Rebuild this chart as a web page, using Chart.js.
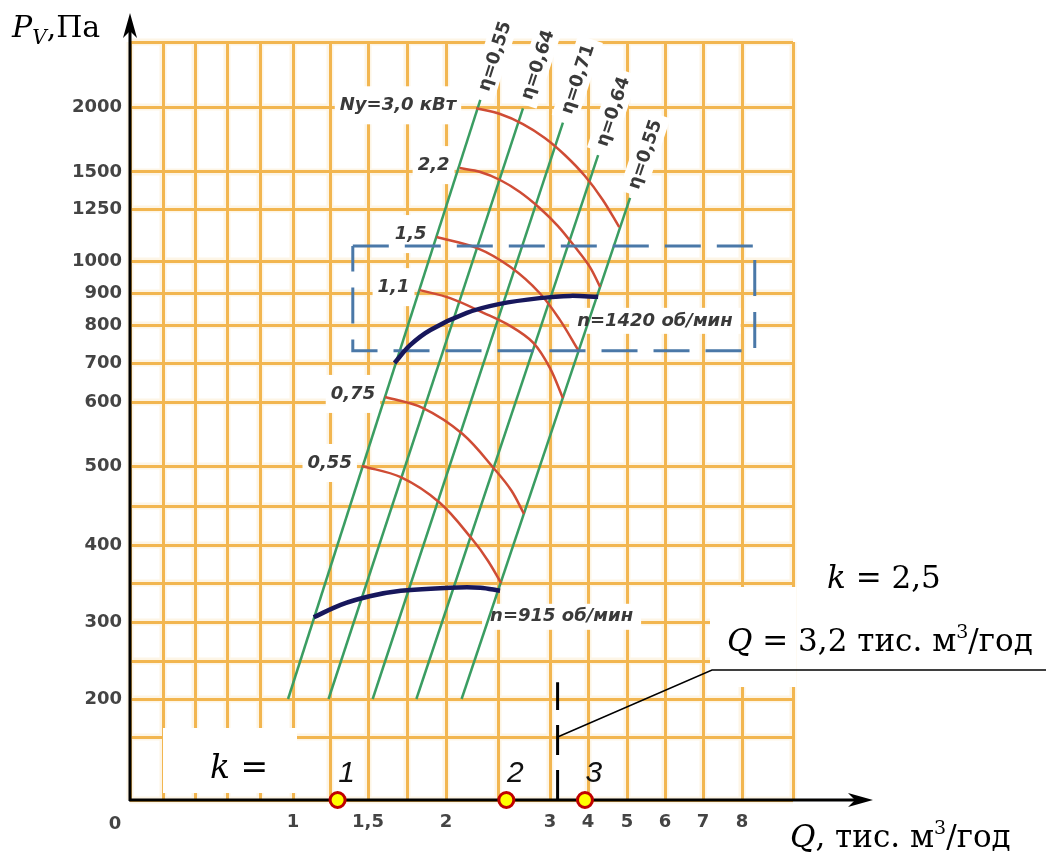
<!DOCTYPE html>
<html>
<head>
<meta charset="utf-8">
<title>Характеристика вентилятора</title>
<script src="https://cdn.jsdelivr.net/npm/chart.js@4.4.1/dist/chart.umd.min.js"></script>
<style>
  html, body { margin: 0; padding: 0; background: #fff; }
  canvas { display: block; }
</style>
</head>
<body>
<canvas id="fanChart" width="1059" height="859"></canvas>
<script>
// grid values on both axes and the labels printed at them
const qGrid = [0, 0.2, 0.4, 0.6, 0.8, 1, 1.25, 1.5, 1.75, 2, 2.5, 3, 4, 5, 6, 7, 8, 9];
const qTickLabels = ['', '', '', '', '', '1', '', '1,5', '', '2', '', '3', '4', '5', '6', '7', '8', ''];
const pGrid = [0, 100, 200, 250, 300, 350, 400, 450, 500, 600, 700, 800, 900, 1000, 1250, 1500, 2000, 3000];
const pTickLabels = ['', '', '200', '', '300', '', '400', '', '500', '600', '700', '800', '900', '1000', '1250', '1500', '2000', ''];

// efficiency lines, [Q, P] at the lower and upper end
const etaLabels = ['η=0,55', 'η=0,64', 'η=0,71', 'η=0,64', 'η=0,55'];
const etaLines = [
  [[0.97, 200], [2.33, 2110]],
  [[1.24, 200], [2.74, 1990]],
  [[1.53, 200], [3.34, 1880]],
  [[1.81, 200], [4.26, 1630]],
  [[2.15, 200], [5.08, 1325]]
];

// installed power curves
const powerLabels = ['Ny=3,0 кВт', '2,2', '1,5', '1,1', '0,75', '0,55'];
const powerCurves = [
  [[2.29, 1990], [2.52, 1946], [2.74, 1869], [2.95, 1762], [3.39, 1631], [3.92, 1473], [4.38, 1311], [4.80, 1163]],
  [[2.13, 1530], [2.33, 1500], [2.52, 1446], [2.71, 1365], [2.90, 1257], [3.21, 1168], [3.66, 1067], [4.05, 981], [4.31, 919]],
  [[1.94, 1115], [2.30, 1062], [2.62, 981], [2.90, 900], [3.26, 816], [3.74, 734]],
  [[1.83, 909], [2.04, 884], [2.36, 838], [2.62, 797], [2.84, 753], [3.00, 687], [3.34, 610]],
  [[1.61, 613], [1.85, 591], [2.16, 550], [2.48, 494], [2.63, 469], [2.75, 440]],
  [[1.46, 500], [1.71, 486], [1.96, 454], [2.26, 406], [2.40, 380], [2.53, 350]]
];

// fan curves for the two speeds
const speedLabels = ['n=1420 об/мин', 'n=915 об/мин'];
const speedCurves = [
  [[1.67, 700], [1.77, 747], [1.90, 787], [2.20, 838], [2.52, 866], [2.90, 884], [3.53, 891], [4.26, 888]],
  [[1.14, 306], [1.32, 322], [1.51, 333], [1.71, 340], [2.04, 344], [2.33, 344], [2.52, 340]]
];

// points on the Q axis and the working flow
const kPoints = [1.30, 2.58, 3.92];
const kPointLabels = ['1', '2', '3'];
const workingQ = 3.2;
const workingP = [0, 222];

// highlighted zone
const zoneQ = [1.40, 8.25];
const zoneP = [732, 1072];

// relative spacing of the grid lines (the axes are not uniform)
const axisSpacing = {
  x: [0, 33, 65, 97, 130, 163, 200, 238, 277, 316, 368, 420, 458, 497, 535, 573, 612, 663],
  y: [0, 63, 101, 139, 178, 217, 255, 294, 334, 398, 437, 475, 507, 539, 591, 628, 693, 758]
};
const axisGrid = { x: qGrid, y: pGrid };

// linear scale that is piecewise between the grid lines
class GridScale extends Chart.LinearScale {
  buildTicks() {
    return axisGrid[this.id].map(v => ({ value: v }));
  }
  getPixelForValue(value) {
    const vals = axisGrid[this.id];
    const pos = axisSpacing[this.id];
    let i = 1;
    while (i < vals.length - 1 && value > vals[i]) i++;
    const t = (value - vals[i - 1]) / (vals[i] - vals[i - 1]);
    const frac = (pos[i - 1] + t * (pos[i] - pos[i - 1])) / pos[pos.length - 1];
    return this.getPixelForDecimal(frac);
  }
}
GridScale.id = 'grid';
GridScale.defaults = {};
Chart.register(GridScale);

const gridColor = '#f2b650';
const labelColor = '#3a3a3a';
const sans = '"DejaVu Sans", sans-serif';
const serif = '"DejaVu Serif", serif';
const labelFont = `italic bold 18px ${sans}`;

function drawRuns(ctx, x, y, parts) {
  for (const [text, font, dy] of parts) {
    ctx.font = font;
    ctx.fillText(text, x, y + (dy || 0));
    x += ctx.measureText(text).width;
  }
}

function arrowHead(ctx, x, y, angle) {
  ctx.save();
  ctx.translate(x, y);
  ctx.rotate(angle);
  ctx.beginPath();
  ctx.moveTo(0, 0);
  ctx.lineTo(-25, -7);
  ctx.lineTo(-18, 0);
  ctx.lineTo(-25, 7);
  ctx.closePath();
  ctx.fill();
  ctx.restore();
}

function px(chart, q, p) {
  return [chart.scales.x.getPixelForValue(q), chart.scales.y.getPixelForValue(p)];
}

const decor = {
  id: 'decor',
  beforeDraw(chart) {
    const { ctx, chartArea: a, scales } = chart;
    ctx.save();
    ctx.fillStyle = '#fff';
    ctx.fillRect(0, 0, chart.width, chart.height);
    // soft halo under the grid lines
    ctx.strokeStyle = 'rgba(246, 210, 140, 0.22)';
    ctx.lineWidth = 7;
    ctx.beginPath();
    qGrid.forEach(v => { const x = scales.x.getPixelForValue(v); ctx.moveTo(x, a.top); ctx.lineTo(x, a.bottom); });
    pGrid.forEach(v => { const y = scales.y.getPixelForValue(v); ctx.moveTo(a.left, y); ctx.lineTo(a.right, y); });
    ctx.stroke();
    ctx.restore();
  },
  beforeDatasetsDraw(chart) {
    const { ctx, chartArea: a } = chart;
    ctx.save();
    ctx.fillStyle = '#fff';
    ctx.font = labelFont;

    // patches behind the power labels
    powerCurves.forEach((c, i) => {
      const [x, y] = px(chart, c[0][0], c[0][1]);
      const w = ctx.measureText(powerLabels[i]).width;
      const r = x - (i === 0 ? 20 : 10);
      ctx.fillRect(r - w - 5, y - 22, w + 10, 38);
    });
    // patches behind the speed labels
    speedCurves.forEach((c, i) => {
      const [x, y] = px(chart, c[c.length - 1][0], c[c.length - 1][1]);
      const w = ctx.measureText(speedLabels[i]).width;
      const l = x + (i === 0 ? -21 : -10);
      const m = y + (i === 0 ? 24 : 26);
      ctx.fillRect(l - 8, m - 13, w + 16, 26);
    });
    // patches behind the efficiency labels
    ctx.font = `bold 18px ${sans}`;
    etaLines.forEach((l, i) => {
      const [x0, y0] = px(chart, l[0][0], l[0][1]);
      const [x1, y1] = px(chart, l[1][0], l[1][1]);
      const ang = Math.atan2(y1 - y0, x1 - x0);
      const w = ctx.measureText(etaLabels[i]).width;
      ctx.save();
      ctx.translate(x1 + Math.cos(ang) * 46, y1 + Math.sin(ang) * 46);
      ctx.rotate(ang);
      ctx.fillRect(-w / 2 - 6, -13, w + 12, 26);
      ctx.restore();
    });
    // boxes of the k and Q notes
    ctx.fillRect(163, 728, 134, 65);
    ctx.fillRect(710, 587, a.right - 710 + 3, 100);

    // axes with arrows
    ctx.fillStyle = '#000';
    ctx.strokeStyle = '#000';
    ctx.lineWidth = 3;
    ctx.beginPath();
    ctx.moveTo(a.left, a.bottom + 1);
    ctx.lineTo(a.left, a.top - 22);
    ctx.moveTo(a.left - 1, a.bottom);
    ctx.lineTo(a.right + 72, a.bottom);
    ctx.stroke();
    arrowHead(ctx, a.left, a.top - 29, -Math.PI / 2);
    arrowHead(ctx, a.right + 80, a.bottom, 0);
    ctx.restore();
  },
  afterDatasetsDraw(chart) {
    const { ctx, chartArea: a } = chart;
    ctx.save();
    ctx.fillStyle = labelColor;
    ctx.textBaseline = 'middle';

    ctx.font = labelFont;
    ctx.textAlign = 'right';
    powerCurves.forEach((c, i) => {
      const [x, y] = px(chart, c[0][0], c[0][1]);
      ctx.fillText(powerLabels[i], x - (i === 0 ? 20 : 10), y - 3);
    });
    ctx.textAlign = 'left';
    speedCurves.forEach((c, i) => {
      const [x, y] = px(chart, c[c.length - 1][0], c[c.length - 1][1]);
      ctx.fillText(speedLabels[i], x + (i === 0 ? -21 : -10), y + (i === 0 ? 24 : 26));
    });

    ctx.font = `bold 18px ${sans}`;
    ctx.textAlign = 'center';
    etaLines.forEach((l, i) => {
      const [x0, y0] = px(chart, l[0][0], l[0][1]);
      const [x1, y1] = px(chart, l[1][0], l[1][1]);
      const ang = Math.atan2(y1 - y0, x1 - x0);
      ctx.save();
      ctx.translate(x1 + Math.cos(ang) * 46, y1 + Math.sin(ang) * 46);
      ctx.rotate(ang);
      ctx.fillText(etaLabels[i], 0, 1);
      ctx.restore();
    });

    // origin label
    ctx.fillStyle = '#444';
    ctx.fillText('0', a.left - 15, a.bottom + 24);

    // numbers of the points on the Q axis
    ctx.fillStyle = '#111';
    ctx.font = 'italic 30px "Liberation Sans", sans-serif';
    ctx.textBaseline = 'alphabetic';
    kPoints.forEach((q, i) => {
      const [x, y] = px(chart, q, 0);
      ctx.fillText(kPointLabels[i], x + 9, y - 18);
    });

    // leader from the working flow line to its note
    const [lx, ly] = px(chart, workingQ, 100);
    ctx.strokeStyle = '#000';
    ctx.lineWidth = 1.5;
    ctx.beginPath();
    ctx.moveTo(lx, ly);
    ctx.lineTo(712, 670);
    ctx.lineTo(1046, 670);
    ctx.stroke();

    // axis titles and notes
    ctx.textAlign = 'left';
    ctx.fillStyle = '#000';
    drawRuns(ctx, 12, 37, [['P', `italic 30px ${serif}`], ['V', `italic 20px ${serif}`, 7], [',Па', `30px ${serif}`]]);
    drawRuns(ctx, 790, 847, [['Q', `italic 31px ${serif}`], [', тис. м', `31px ${serif}`], ['3', `19px ${serif}`, -13], ['/год', `31px ${serif}`]]);
    drawRuns(ctx, 727, 651, [['Q', `italic 31px ${serif}`], [' = 3,2 тис. м', `31px ${serif}`], ['3', `19px ${serif}`, -13], ['/год', `31px ${serif}`]]);
    drawRuns(ctx, 827, 588, [['k', `italic 31px ${serif}`], [' = 2,5', `31px ${serif}`]]);
    drawRuns(ctx, 210, 778, [['k', `italic 33px ${serif}`], [' =', `33px ${serif}`]]);
    ctx.restore();
  }
};

function curve(points, color, width, extra) {
  return Object.assign({
    data: points.map(([q, p]) => ({ x: q, y: p })),
    borderColor: color,
    borderWidth: width,
    pointRadius: 0,
    showLine: true,
    fill: false
  }, extra);
}

const zoneOutline = [
  [zoneQ[0], zoneP[1]], [zoneQ[1], zoneP[1]], [zoneQ[1], zoneP[0]], [zoneQ[0], zoneP[0]], [zoneQ[0], zoneP[1]]
];

const datasets = [
  {
    data: kPoints.map(q => ({ x: q, y: 0 })),
    showLine: false,
    pointRadius: 7.5,
    pointBorderWidth: 3,
    pointBackgroundColor: '#ffff00',
    pointBorderColor: '#c00000',
    clip: false,
    order: 0
  },
  ...speedCurves.map(c => curve(c, '#17175c', 4.5, { tension: 0.35, order: 1 })),
  curve(workingP.map(p => [workingQ, p]), '#000', 3, { borderDash: [30, 15], order: 1 }),
  curve(zoneOutline, '#4a78a8', 3, { borderDash: [36, 16], order: 2 }),
  ...powerCurves.map(c => curve(c, '#cf4c35', 2.5, { tension: 0.35, order: 3 })),
  ...etaLines.map(c => curve(c, '#3a9d62', 2.5, { order: 4 }))
];

const tickFont = { family: 'DejaVu Sans', weight: 'bold', size: 18 };

new Chart(document.getElementById('fanChart').getContext('2d'), {
  type: 'scatter',
  data: { datasets },
  options: {
    responsive: false,
    animation: false,
    events: [],
    layout: { padding: { top: 42, right: 266, left: 0, bottom: 0 } },
    plugins: { legend: { display: false }, tooltip: { enabled: false } },
    scales: {
      x: {
        type: 'grid',
        min: 0,
        max: 9,
        afterFit: s => { s.height = 59; },
        grid: { color: gridColor, lineWidth: 3, drawTicks: false },
        border: { display: false },
        ticks: {
          autoSkip: false, maxRotation: 0, padding: 12, color: '#444', font: tickFont,
          callback: (v, i) => qTickLabels[i]
        }
      },
      y: {
        type: 'grid',
        min: 0,
        max: 3000,
        afterFit: s => { s.width = 130; },
        grid: { color: gridColor, lineWidth: 3, drawTicks: false },
        border: { display: false },
        ticks: {
          autoSkip: false, padding: 8, color: '#444', font: tickFont,
          callback: (v, i) => pTickLabels[i]
        }
      }
    }
  },
  plugins: [decor]
});
</script>
</body>
</html>
